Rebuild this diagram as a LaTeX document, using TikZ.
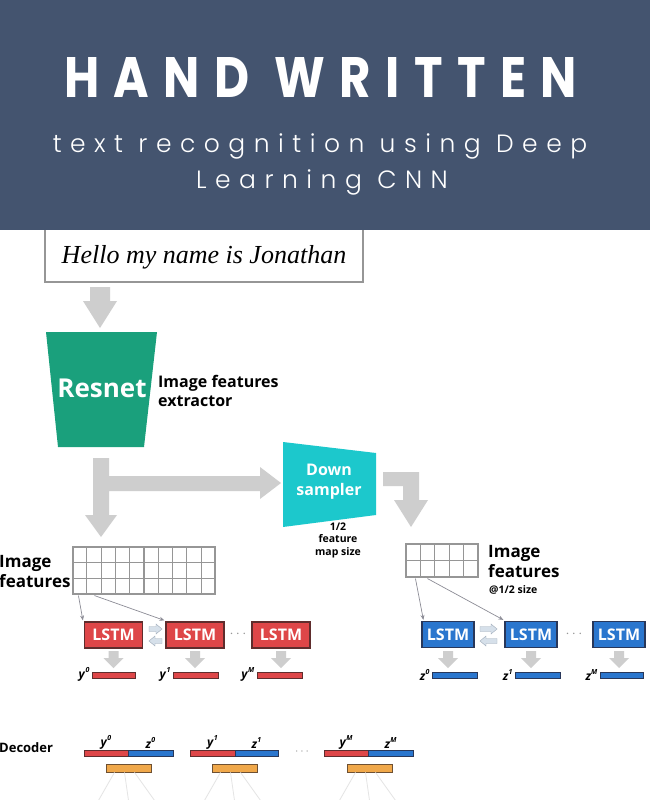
\documentclass[tikz,border=0pt]{standalone}
\usepackage{fontspec}
\setmainfont{Open Sans}
\newfontfamily\titlefont{Poppins}[LetterSpace=30]
\newfontfamily\subfont{Poppins Light}[LetterSpace=34]
\newfontfamily\handfont{Liberation Serif}
\usetikzlibrary{calc,arrows.meta}
\definecolor{hdr}{RGB}{68,84,111}
\definecolor{agray}{RGB}{206,206,206}
\definecolor{resgreen}{RGB}{26,160,124}
\definecolor{dscyan}{RGB}{28,200,204}
\definecolor{lstmR}{RGB}{222,70,72}
\definecolor{lstmRb}{RGB}{95,45,45}
\definecolor{lstmB}{RGB}{42,118,206}
\definecolor{lstmBb}{RGB}{40,55,90}
\definecolor{orng}{RGB}{240,168,74}
\definecolor{orngb}{RGB}{110,80,50}
\definecolor{gridc}{RGB}{150,150,150}
\definecolor{boxgray}{RGB}{150,150,150}
\definecolor{thinc}{RGB}{140,140,150}
\definecolor{fanc}{RGB}{228,228,228}
\definecolor{pairf}{RGB}{214,224,234}
\definecolor{pairb}{RGB}{160,172,186}
\newcommand\dnarr[6]{\fill[agray] ({#1-#5},#2) -- ({#1+#5},#2) -- ({#1+#5},#3) -- ({#1+#6},#3) -- (#1,#4) -- ({#1-#6},#3) -- ({#1-#5},#3) -- cycle;}
\newcommand\vl[2]{\textbf{\textit{#1}}\raisebox{0.5em}{\fontsize{7}{7}\selectfont\bfseries\itshape #2}}
\newcommand\pairarr[3]{% x left, y upper, x right
  \filldraw[fill=pairf, draw=pairb, line width=0.4pt] (#1,{#2-2.5}) -- ({#3-6},{#2-2.5}) -- ({#3-6},{#2-5}) -- (#3,#2) -- ({#3-6},{#2+5}) -- ({#3-6},{#2+2.5}) -- (#1,{#2+2.5}) -- cycle;
  \filldraw[fill=pairf, draw=pairb, line width=0.4pt] (#3,{#2+12-2.5}) -- ({#1+6},{#2+12-2.5}) -- ({#1+6},{#2+12-5}) -- (#1,{#2+12}) -- ({#1+6},{#2+12+5}) -- ({#1+6},{#2+12+2.5}) -- (#3,{#2+12+2.5}) -- cycle;}
\tikzset{
  lstmr/.style={draw=lstmRb, line width=1.2pt, fill=lstmR, text=white, font=\fontsize{16}{16}\selectfont\bfseries, minimum width=58pt, minimum height=26pt, inner sep=0pt},
  lstmb/.style={lstmr, draw=lstmBb, fill=lstmB, minimum width=52pt},
  vecr/.style={draw=lstmRb, line width=0.8pt, fill=lstmR, minimum height=6pt, inner sep=0pt},
  vecb/.style={draw=lstmBb, line width=0.8pt, fill=lstmB, minimum height=6pt, inner sep=0pt},
  veco/.style={draw=orngb, line width=0.8pt, fill=orng, minimum height=8pt, minimum width=45pt, inner sep=0pt},
  vlab/.style={font=\fontsize{12}{12}\selectfont, inner sep=0pt},
  lab/.style={font=\fontsize{16}{19}\selectfont\bfseries, align=left, inner sep=0pt},
  small/.style={font=\fontsize{10.5}{12.5}\selectfont\bfseries, align=center, inner sep=0pt},
  thinarr/.style={draw=thinc, line width=0.7pt, -{Stealth[length=5pt,width=4pt]}},
  gridln/.style={draw=gridc, line width=1.1pt},
  fan/.style={draw=fanc, line width=0.8pt},
  dots/.style={text=gridc, font=\fontsize{14}{14}\selectfont\bfseries, inner sep=0pt}
}
\begin{document}
\begin{tikzpicture}[x=1pt,y=-1pt]
\useasboundingbox (0,0) rectangle (650,800);
\fill[white] (0,0) rectangle (650,800);

% handwritten input
\draw[draw=boxgray, line width=1.2pt] (45,200) rectangle (363,282);
\node[font=\handfont\itshape\fontsize{26}{26}\selectfont, inner sep=0pt] (hand) at (204,257) {Hello my name is Jonathan};

% arrow box -> resnet
\dnarr{100}{287}{301}{328}{10}{17}

% resnet
\fill[resgreen] (46,332) -- (157,332) -- (144,447) -- (58,447) -- cycle;
\node[text=white, font=\fontsize{26}{26}\selectfont\bfseries, inner sep=0pt] (resnet) at (102,388) {Resnet};
\node[lab, anchor=west] (ifx) at (158,391) {Image features\\extractor};

% branching arrow
\fill[agray] (93,458) -- (109,458) -- (109,476) -- (260,476) -- (260,467) -- (281,483) -- (260,499) -- (260,491) -- (109,491) -- (109,515) -- (117,515) -- (101,537) -- (85,515) -- (93,515) -- cycle;

% down sampler
\fill[dscyan] (283,442) -- (376,453) -- (376,515) -- (283,527) -- cycle;
\node[text=white, font=\fontsize{16}{20}\selectfont\bfseries, align=center, inner sep=0pt] (ds) at (329,482) {Down\\sampler};
\node[small] (half) at (338,540) {1/2\\feature\\map size};

% L arrow
\fill[agray] (383,472) -- (419,472) -- (419,500) -- (428,500) -- (411,527) -- (394,500) -- (403,500) -- (403,486) -- (383,486) -- cycle;

% left grid
\node[draw=gridc, line width=1.1pt, minimum width=142pt, minimum height=47pt, inner sep=0pt] (gridL) at (144,570.5) {};
\foreach \i in {1,...,9} \draw[gridln] ($(gridL.north west)!\i/10!(gridL.north east)$) -- ($(gridL.south west)!\i/10!(gridL.south east)$);
\foreach \j in {1,2} \draw[gridln] ($(gridL.north west)!\j/3!(gridL.south west)$) -- ($(gridL.north east)!\j/3!(gridL.south east)$);
\node[lab, font=\fontsize{17}{20}\selectfont\bfseries, anchor=west] (imfL) at (-1,572) {Image\\features};

% right grid
\node[draw=gridc, line width=1.1pt, minimum width=72pt, minimum height=33pt, inner sep=0pt] (gridR) at (442,560.5) {};
\foreach \i in {1,...,4} \draw[gridln] ($(gridR.north west)!\i/5!(gridR.north east)$) -- ($(gridR.south west)!\i/5!(gridR.south east)$);
\draw[gridln] (gridR.west) -- (gridR.east);
\node[lab, anchor=north west, font=\fontsize{17}{20}\selectfont\bfseries] (imfR) at (488,545) {Image\\features};
\node[small, anchor=north west] (imfRs) at (489,585) {@1/2 size};

% left LSTMs
\node[lstmr] (lL1) at (113.5,635) {LSTM};
\node[lstmr] (lL2) at (195,635) {LSTM};
\node[lstmr] (lL3) at (281,635) {LSTM};
\pairarr{149}{629}{162}
\node[dots] (dL) at (238,634) {$\cdots$};
\draw[thinarr] ($(gridL.south west)+(6,1)$) -- ($(lL1.north west)+(-1,-1)$);
\draw[thinarr] ($(gridL.south west)+(22,1)$) -- ($(lL2.north west)+(-1,-1)$);

% right LSTMs
\node[lstmb] (lR1) at (448,634.5) {LSTM};
\node[lstmb] (lR2) at (531,634.5) {LSTM};
\node[lstmb] (lR3) at (619,634.5) {LSTM};
\pairarr{480}{629}{497}
\node[dots] (dR) at (574,634) {$\cdots$};
\draw[thinarr] ($(gridR.south west)+(10,1)$) -- ($(lR1.north west)+(2,-1)$);
\draw[thinarr] ($(gridR.south west)+(22,1)$) -- ($(lR2.north west)+(-1,-1)$);

% small down arrows
\foreach \c in {113.5,195,281,448,531,619} {\dnarr{\c}{651}{658}{668}{5}{10}}

% y and z vectors
\node[vecr, minimum width=43pt] (y0) at (113.5,675) {};
\node[vecr, minimum width=45pt] (y1) at (195.5,675) {};
\node[vecr, minimum width=45pt] (yM) at (279.5,675) {};
\node[vlab, anchor=east] at ($(y0.west)+(-2,-1)$) {\vl{y}{0}};
\node[vlab, anchor=east] at ($(y1.west)+(-2,-1)$) {\vl{y}{1}};
\node[vlab, anchor=east] at ($(yM.west)+(-2,-1)$) {\vl{y}{M}};
\node[vecb, minimum width=45pt] (z0) at (454.5,675.5) {};
\node[vecb, minimum width=45pt] (z1) at (537.5,675.5) {};
\node[vecb, minimum width=43pt] (zM) at (621.5,675.5) {};
\node[vlab, anchor=east] at ($(z0.west)+(-2,-1)$) {\vl{z}{0}};
\node[vlab, anchor=east] at ($(z1.west)+(-2,-1)$) {\vl{z}{1}};
\node[vlab, anchor=east] at ($(zM.west)+(-2,-1)$) {\vl{z}{M}};

% decoder
\node[font=\fontsize{13}{13}\selectfont\bfseries, anchor=west, inner sep=0pt] (dec) at (-1,748) {Decoder};
\foreach \r/\m/\b/\o/\n/\s in {84/128/173/128.5/1/0, 190/235/278/234.5/2/1, 324/368/413/369.5/3/M} {
  \node[vecr, minimum width={\m-\r}] (dr\n) at ({(\r+\m)/2},753.5) {};
  \node[vecb, minimum width={\b-\m}] (db\n) at ({(\m+\b)/2},753.5) {};
  \node[vlab, anchor=south] at ($(dr\n.north)+(0,-1)$) {\vl{y}{\s}};
  \node[vlab, anchor=south] at ($(db\n.north)+(0,-1)$) {\vl{z}{\s}};
  \node[veco] (do\n) at (\o,768) {};
  \draw[fan] ($(do\n.south)+(-14,0)$) -- ($(do\n.south)+(-30,28)$);
  \draw[fan] ($(do\n.south)+(-4,0)$) -- ($(do\n.south)+(0,28)$);
  \draw[fan] ($(do\n.south)+(6,0)$) -- ($(do\n.south)+(26,28)$);
}
\node[dots, font=\fontsize{12}{12}\selectfont] (dD) at (302,752) {$\cdots$};
\node[font=\fontsize{28}{28}\selectfont, anchor=base west, inner sep=0pt] (bot) at (86,823) {Hel\hspace{22pt}B};

% header band
\fill[hdr] (0,0) rectangle (650,230);
\node[text=white, anchor=base west, inner sep=0pt] (title) at (64,97) {\resizebox{513pt}{40pt}{\titlefont\bfseries HAND WRITTEN}};
\node[text=white, anchor=base, inner sep=0pt] (sub1) at (320,152) {\fontsize{25}{25}\subfont text recognition using Deep};
\node[text=white, anchor=base, inner sep=0pt] (sub2) at (322,188) {\fontsize{25}{25}\subfont Learning CNN};
\end{tikzpicture}
\end{document}
